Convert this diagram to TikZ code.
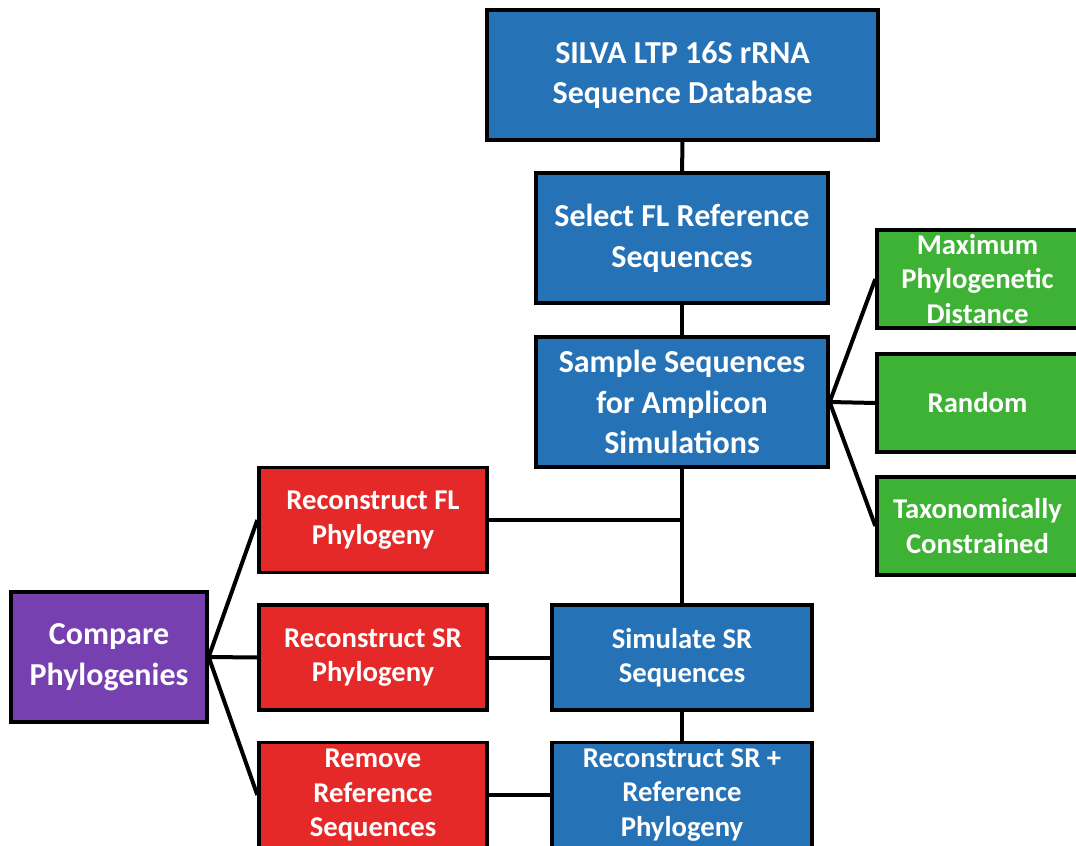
\documentclass[tikz,border=0pt]{standalone}
\usepackage{fontspec}
\setmainfont{Carlito}
\usetikzlibrary{positioning}

\definecolor{boxblue}{RGB}{38,114,182}
\definecolor{boxgreen}{RGB}{62,178,52}
\definecolor{boxred}{RGB}{229,40,40}
\definecolor{boxpurple}{RGB}{118,64,176}

\tikzset{
  box/.style={draw=black,line width=2.5pt,inner sep=0pt,align=center,
    text=white,font=\bfseries\fontsize{24}{30.5}\selectfont},
  small/.style={font=\bfseries\fontsize{21.5}{25.8}\selectfont},
  bluebox/.style={box,fill=boxblue},
  greenbox/.style={box,small,fill=boxgreen,minimum width=150.75pt,minimum height=73.5pt},
  redbox/.style={box,small,fill=boxred,minimum width=171pt,minimum height=78.75pt},
  link/.style={line width=3pt,black}
}

\begin{document}
\begin{tikzpicture}[x=0.75pt,y=-0.75pt]
  \clip (0,0) rectangle (1076,846);
  \fill[white] (0,0) rectangle (1076,846);

  % main column
  \node[bluebox,minimum width=293.25pt,minimum height=97.5pt](db)at(682.5,75){SILVA LTP 16S rRNA\\Sequence Database};
  \node[bluebox,minimum width=219pt,minimum height=97.5pt](select)at(682,238){Select FL Reference\\Sequences};
  \node[bluebox,minimum width=219pt,minimum height=97.5pt](sample)at(682,402){Sample Sequences\\for Amplicon\\Simulations};
  \node[bluebox,small,minimum width=195pt,minimum height=78.75pt](simsr)at(682,657.5){Simulate SR\\Sequences};
  \node[bluebox,small,minimum width=195pt,minimum height=78.75pt](recref)at(682,795){Reconstruct SR +\\Reference\\Phylogeny};

  % sampling schemes
  \node[greenbox](maxdist)at(977.5,279){Maximum\\Phylogenetic\\Distance};
  \node[greenbox](random)at(977.5,403){Random};
  \node[greenbox](taxcon)at(977.5,526){Taxonomically\\Constrained};

  % phylogenies
  \node[redbox](recfl)at(373,520){Reconstruct FL\\Phylogeny};
  \node[redbox](recsr)at(373,657.5){Reconstruct SR\\Phylogeny};
  \node[redbox](remref)at(373,795){Remove\\Reference\\Sequences};
  \node[box,fill=boxpurple,minimum width=147pt,minimum height=97.5pt](compare)at(109,657){Compare\\Phylogenies};

  % connectors
  \draw[link](db)--(select);
  \draw[link](select)--(sample);
  \draw[link](sample)--(simsr);
  \draw[link](simsr)--(recref);
  \draw[link](recfl.east)--(recfl.east -| simsr.north);
  \draw[link](sample.east)--(maxdist.west);
  \draw[link](sample.east)--(random.west);
  \draw[link](sample.east)--(taxcon.west);
  \draw[link](compare.east)--(recfl.west);
  \draw[link](compare.east)--(recsr.west);
  \draw[link](compare.east)--(remref.west);
  \draw[link](recsr)--(simsr);
  \draw[link](remref)--(recref);
\end{tikzpicture}
\end{document}
